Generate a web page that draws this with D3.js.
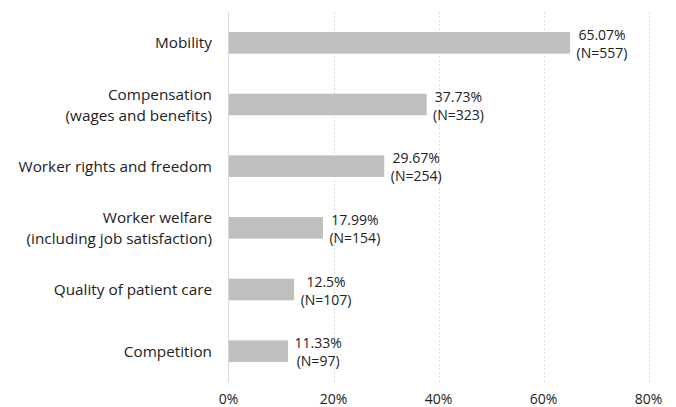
<!DOCTYPE html>
<html>
<head>
<meta charset="utf-8">
<script src="https://cdn.jsdelivr.net/npm/d3@7"></script>
<style>
  body { margin: 0; background: #fff; }
  svg { display: block; font-family: "Open Sans", "Noto Sans", sans-serif; }
</style>
</head>
<body>
<script>
var categories = [
    ["Mobility"],
    ["Compensation", "(wages and benefits)"],
    ["Worker rights and freedom"],
    ["Worker welfare", "(including job satisfaction)"],
    ["Quality of patient care"],
    ["Competition"]
];
var shares = [65.07, 37.73, 29.67, 17.99, 12.5, 11.33];
var counts = [557, 323, 254, 154, 107, 97];
var shareLabels = ["65.07%", "37.73%", "29.67%", "17.99%", "12.5%", "11.33%"];
var ticks = [0, 20, 40, 60, 80];

var width = 676, height = 407;
var cat_size = 15.3;
var val_size = 14;

var x = d3.scaleLinear().domain([0, 80]).range([228.5, 648.5]);
var y = d3.scaleBand()
    .domain(d3.range(categories.length))
    .range([12, 382])
    .paddingInner(0.65)
    .paddingOuter(0.325);

var svg = d3.select("body").append("svg")
    .attr("width", width)
    .attr("height", height);

// grid
svg.selectAll("line.grid")
    .data(ticks.slice(1))
    .join("line")
    .attr("class", "grid")
    .attr("x1", d => Math.round(x(d)) + 0.5)
    .attr("x2", d => Math.round(x(d)) + 0.5)
    .attr("y1", 12)
    .attr("y2", 382)
    .attr("stroke", "#e0e0e0")
    .attr("stroke-dasharray", "2,2");

svg.append("line")
    .attr("x1", x(0)).attr("x2", x(0))
    .attr("y1", 12).attr("y2", 382)
    .attr("stroke", "#d9d9d9");

// tick labels
svg.selectAll("text.tick")
    .data(ticks)
    .join("text")
    .attr("class", "tick")
    .attr("x", d => x(d))
    .attr("y", 404)
    .attr("text-anchor", "middle")
    .attr("fill", "#222")
    .style("font-size", val_size + "px")
    .text(d => d + "%");

// bars
svg.selectAll("rect.bar")
    .data(shares)
    .join("rect")
    .attr("class", "bar")
    .attr("x", x(0) + 0.5)
    .attr("y", (d, i) => y(i))
    .attr("width", d => x(d) - x(0) - 0.5)
    .attr("height", y.bandwidth())
    .attr("fill", "#bfbfbf");

// category labels
var cat = svg.selectAll("text.cat")
    .data(categories)
    .join("text")
    .attr("class", "cat")
    .attr("text-anchor", "end")
    .attr("fill", "#222")
    .style("font-size", cat_size + "px");
cat.each(function(lines, i) {
    var cy = y(i) + y.bandwidth() / 2;
    var lh = 21;
    var top = cy - (lines.length - 1) * lh / 2;
    d3.select(this).selectAll("tspan")
        .data(lines)
        .join("tspan")
        .attr("x", 212)
        .attr("y", (d, j) => top + j * lh + 5.5)
        .text(d => d);
});

// value labels
var val = svg.selectAll("g.val")
    .data(shares)
    .join("g")
    .attr("class", "val")
    .style("font-size", val_size + "px");
val.each(function(d, i) {
    var g = d3.select(this);
    var cy = y(i) + y.bandwidth() / 2;
    var t1 = g.append("text").attr("text-anchor", "middle").attr("fill", "#222")
        .attr("y", cy - 3).text(shareLabels[i]);
    var t2 = g.append("text").attr("text-anchor", "middle").attr("fill", "#222")
        .attr("y", cy + 15).text("(N=" + counts[i] + ")");
    var w = Math.max(t1.node().getComputedTextLength(), t2.node().getComputedTextLength());
    var cx = x(d) + 6.5 + w / 2;
    t1.attr("x", cx);
    t2.attr("x", cx);
});
</script>
</body>
</html>
